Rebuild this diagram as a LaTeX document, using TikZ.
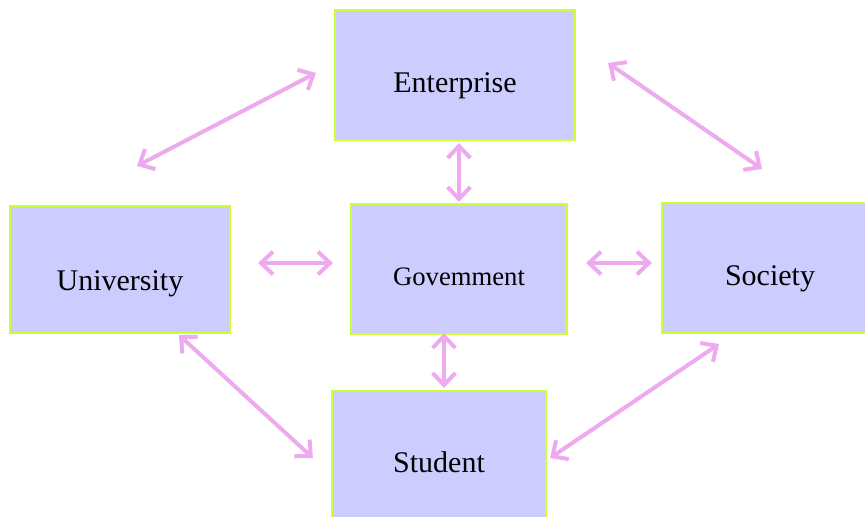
\documentclass[tikz,border=0pt]{standalone}
\usepackage{fontspec}
\setmainfont{Liberation Serif}
\usetikzlibrary{arrows.meta}
\definecolor{boxfill}{HTML}{CCCCFF}
\definecolor{boxline}{HTML}{CCFF33}
\definecolor{linkpink}{HTML}{EEAAEE}
\begin{document}
\begin{tikzpicture}[x=0.75pt,y=-0.75pt,
    party/.style={draw=boxline,fill=boxfill,line width=1.6pt,inner sep=0pt,
        font=\fontsize{22.5}{27}\selectfont,text depth=0pt,text height=26pt},
    link/.style={draw=linkpink,line width=3pt,
        {Straight Barb[length=9pt,width=17pt,line width=3pt]}-{Straight Barb[length=9pt,width=17pt,line width=3pt]}}]
                    \fill[white] (0,0) rectangle (865,517);
                    \useasboundingbox (0,0) rectangle (865,517);

                    \node[party,minimum width=180pt,minimum height=97.5pt] (ent) at (455,75) {Enterprise};
                    \node[party,minimum width=165pt,minimum height=95.25pt,text height=32pt] (uni) at (120,269.5) {University};
                    \node[party,minimum width=162pt,minimum height=97.5pt,font=\fontsize{20}{24}\selectfont,text height=24pt] (gov) at (459,269) {Govemment};
                    \node[party,minimum width=162pt,minimum height=97.5pt] (soc) at (770,268) {Society};
                    \node[party,minimum width=160.5pt,minimum height=97.5pt,text height=25pt] (stu) at (439,456) {Student};

                    \draw[link] ([shift={(-18,-2)}]ent.west)--([shift={(17,-39)}]uni.north);
                    \draw[link] ([shift={(32,-12)}]ent.east)--([shift={(-8,-33)}]soc.north);
                    \draw[link] ([shift={(4,2)}]ent.south)--([shift={(0,-1)}]gov.north);

                    \draw[link] ([shift={(27,-6.5)}]uni.east)--([shift={(-17,-6)}]gov.west);
                    \draw[link] ([shift={(18,-6)}]gov.east)--([shift={(-9,-5)}]soc.west);

                    \draw[link] ([shift={(-15,-2)}]gov.south)--([shift={(5,-2)}]stu.north);
                    \draw[link] ([shift={(59,1)}]uni.south)--([shift={(-18,2)}]stu.west);
                    \draw[link] ([shift={(-51,10)}]soc.south)--([shift={(3,2)}]stu.east);
\end{tikzpicture}
\end{document}
